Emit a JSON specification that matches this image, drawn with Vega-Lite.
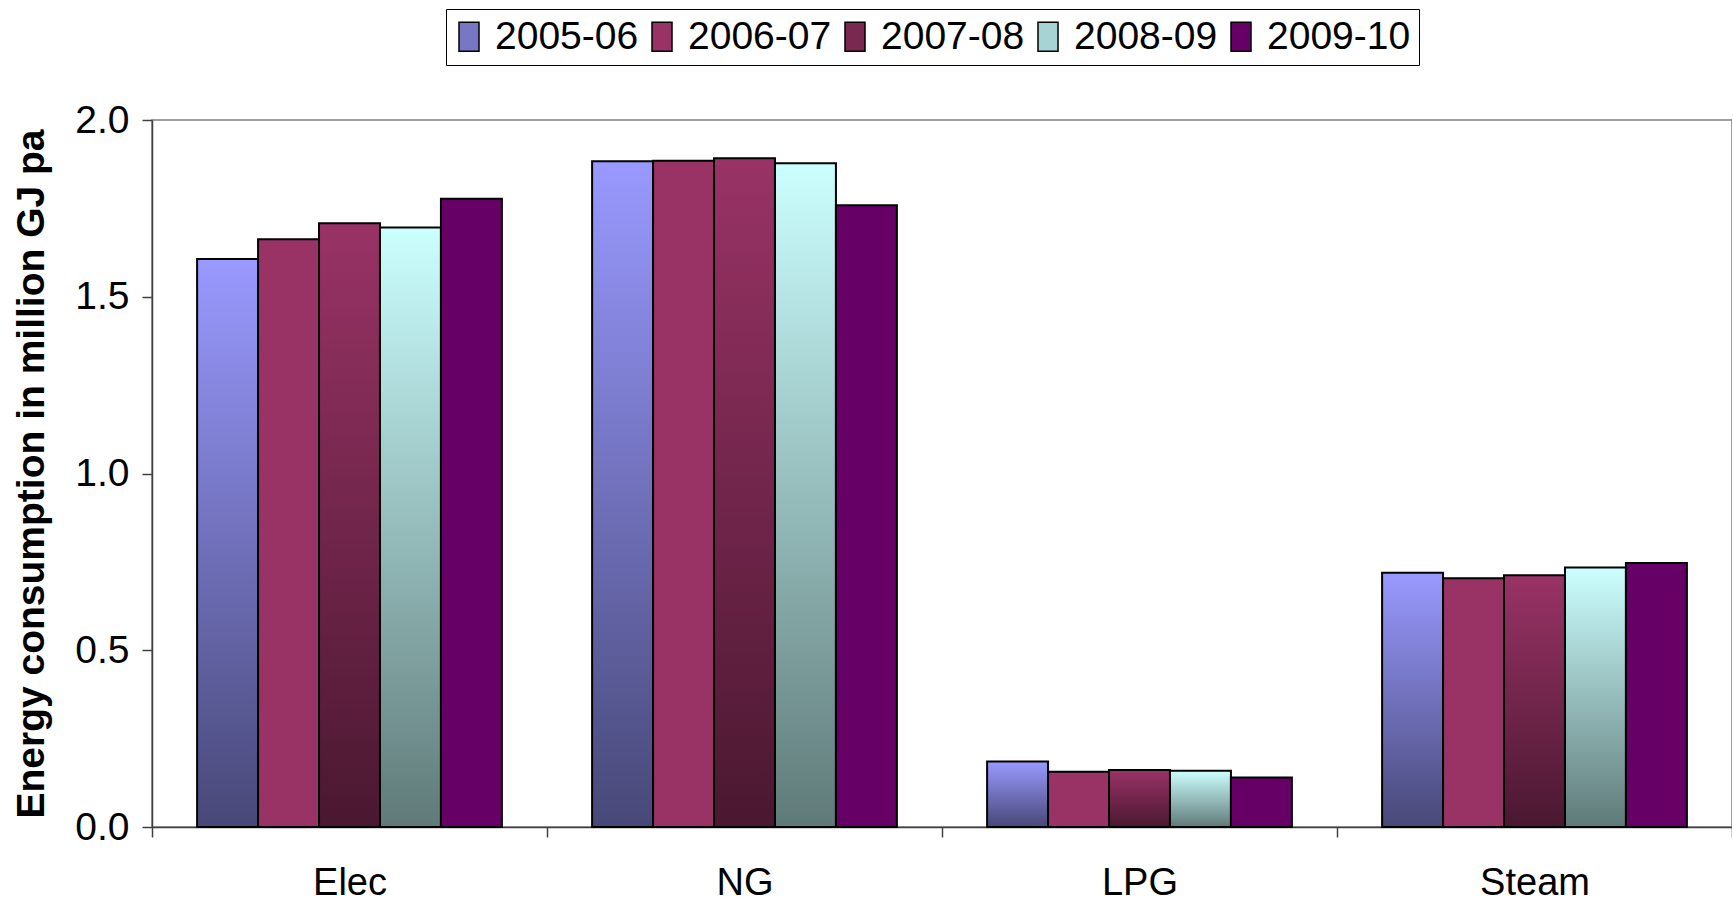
{
  "$schema": "https://vega.github.io/schema/vega-lite/v6.json",
  "autosize": {"type": "none"},
  "width": 1580,
  "height": 707,
  "padding": {"left": 152, "top": 120, "right": 0, "bottom": 76},
  "background": "white",
  "config": {
    "font": "Liberation Sans",
    "view": {"stroke": "#808080", "strokeWidth": 1.5}
  },
  "data": {
    "values": [
      {"fuel": "Elec", "year": "2005-06", "value": 1.607},
      {"fuel": "Elec", "year": "2006-07", "value": 1.663},
      {"fuel": "Elec", "year": "2007-08", "value": 1.708},
      {"fuel": "Elec", "year": "2008-09", "value": 1.696},
      {"fuel": "Elec", "year": "2009-10", "value": 1.777},
      {"fuel": "NG", "year": "2005-06", "value": 1.883},
      {"fuel": "NG", "year": "2006-07", "value": 1.885},
      {"fuel": "NG", "year": "2007-08", "value": 1.892},
      {"fuel": "NG", "year": "2008-09", "value": 1.878},
      {"fuel": "NG", "year": "2009-10", "value": 1.759},
      {"fuel": "LPG", "year": "2005-06", "value": 0.185},
      {"fuel": "LPG", "year": "2006-07", "value": 0.156},
      {"fuel": "LPG", "year": "2007-08", "value": 0.161},
      {"fuel": "LPG", "year": "2008-09", "value": 0.159},
      {"fuel": "LPG", "year": "2009-10", "value": 0.140},
      {"fuel": "Steam", "year": "2005-06", "value": 0.719},
      {"fuel": "Steam", "year": "2006-07", "value": 0.704},
      {"fuel": "Steam", "year": "2007-08", "value": 0.712},
      {"fuel": "Steam", "year": "2008-09", "value": 0.734},
      {"fuel": "Steam", "year": "2009-10", "value": 0.747}
    ]
  },
  "mark": {"type": "bar", "stroke": "black", "strokeWidth": 2, "fillOpacity": 1},
  "encoding": {
    "x": {
      "field": "fuel",
      "type": "nominal",
      "sort": ["Elec", "NG", "LPG", "Steam"],
      "scale": {"paddingInner": 0, "paddingOuter": 0},
      "axis": {
        "title": null,
        "labelAngle": 0,
        "labelFontSize": 38,
        "labelColor": "black",
        "labelPadding": 27,
        "tickBand": "extent",
        "tickSize": 10,
        "tickColor": "#404040",
        "tickWidth": 1.5,
        "domainColor": "#404040",
        "domainWidth": 1.5
      }
    },
    "xOffset": {
      "field": "year",
      "type": "nominal",
      "scale": {"paddingInner": 0, "paddingOuter": 0.74}
    },
    "y": {
      "field": "value",
      "type": "quantitative",
      "scale": {"domain": [0, 2], "nice": false},
      "axis": {
        "title": "Energy consumption in million GJ pa",
        "titleFontSize": 39,
        "titleFontWeight": "bold",
        "titleColor": "black",
        "titlePadding": 23,
        "values": [0, 0.5, 1, 1.5, 2],
        "format": ".1f",
        "grid": false,
        "labelFontSize": 39,
        "labelColor": "black",
        "labelPadding": 13,
        "tickSize": 10,
        "tickColor": "#404040",
        "tickWidth": 1.5,
        "domainColor": "#404040",
        "domainWidth": 1.5
      }
    },
    "fill": {
      "condition": [
        {"test": "datum.year === '2005-06'", "value": {"gradient": "linear", "x1": 0, "y1": 0, "x2": 0, "y2": 1, "stops": [{"offset": 0, "color": "#9999FF"}, {"offset": 1, "color": "#484878"}]}},
        {"test": "datum.year === '2007-08'", "value": {"gradient": "linear", "x1": 0, "y1": 0, "x2": 0, "y2": 1, "stops": [{"offset": 0, "color": "#993366"}, {"offset": 1, "color": "#4a1830"}]}},
        {"test": "datum.year === '2008-09'", "value": {"gradient": "linear", "x1": 0, "y1": 0, "x2": 0, "y2": 1, "stops": [{"offset": 0, "color": "#CCFFFF"}, {"offset": 1, "color": "#5f7a78"}]}}
      ],
      "field": "year",
      "type": "nominal",
      "scale": {
        "domain": ["2005-06", "2006-07", "2007-08", "2008-09", "2009-10"],
        "range": ["#7777c4", "#993366", "#7a2850", "#a6d4d4", "#660066"]
      },
      "legend": {
        "title": null,
        "orient": "none",
        "direction": "horizontal",
        "columns": 5,
        "legendX": 294,
        "legendY": -111,
        "padding": 8,
        "strokeColor": "black",
        "fillColor": "white",
        "labelFontSize": 39,
        "labelColor": "black",
        "labelOffset": 2,
        "columnPadding": 8,
        "symbolType": "M-1,-1H0.38V1H-1Z",
        "symbolSize": 841,
        "symbolOpacity": 1,
        "encode": {
          "legend": {
            "strokeWidth": {"value": 1.5}
          },
          "symbols": {
            "stroke": {"value": "black"},
            "strokeWidth": {"value": 1.5},
            "fill": {"signal": "datum.value === '2005-06' ? {gradient: 'linear', x1: 0, y1: 0, x2: 0, y2: 1, stops: [{offset: 0, color: '#9999FF'}, {offset: 1, color: '#484878'}]} : datum.value === '2007-08' ? {gradient: 'linear', x1: 0, y1: 0, x2: 0, y2: 1, stops: [{offset: 0, color: '#993366'}, {offset: 1, color: '#4a1830'}]} : datum.value === '2008-09' ? {gradient: 'linear', x1: 0, y1: 0, x2: 0, y2: 1, stops: [{offset: 0, color: '#CCFFFF'}, {offset: 1, color: '#5f7a78'}]} : scale('fill', datum.value)"}
          }
        }
      }
    }
  }
}
